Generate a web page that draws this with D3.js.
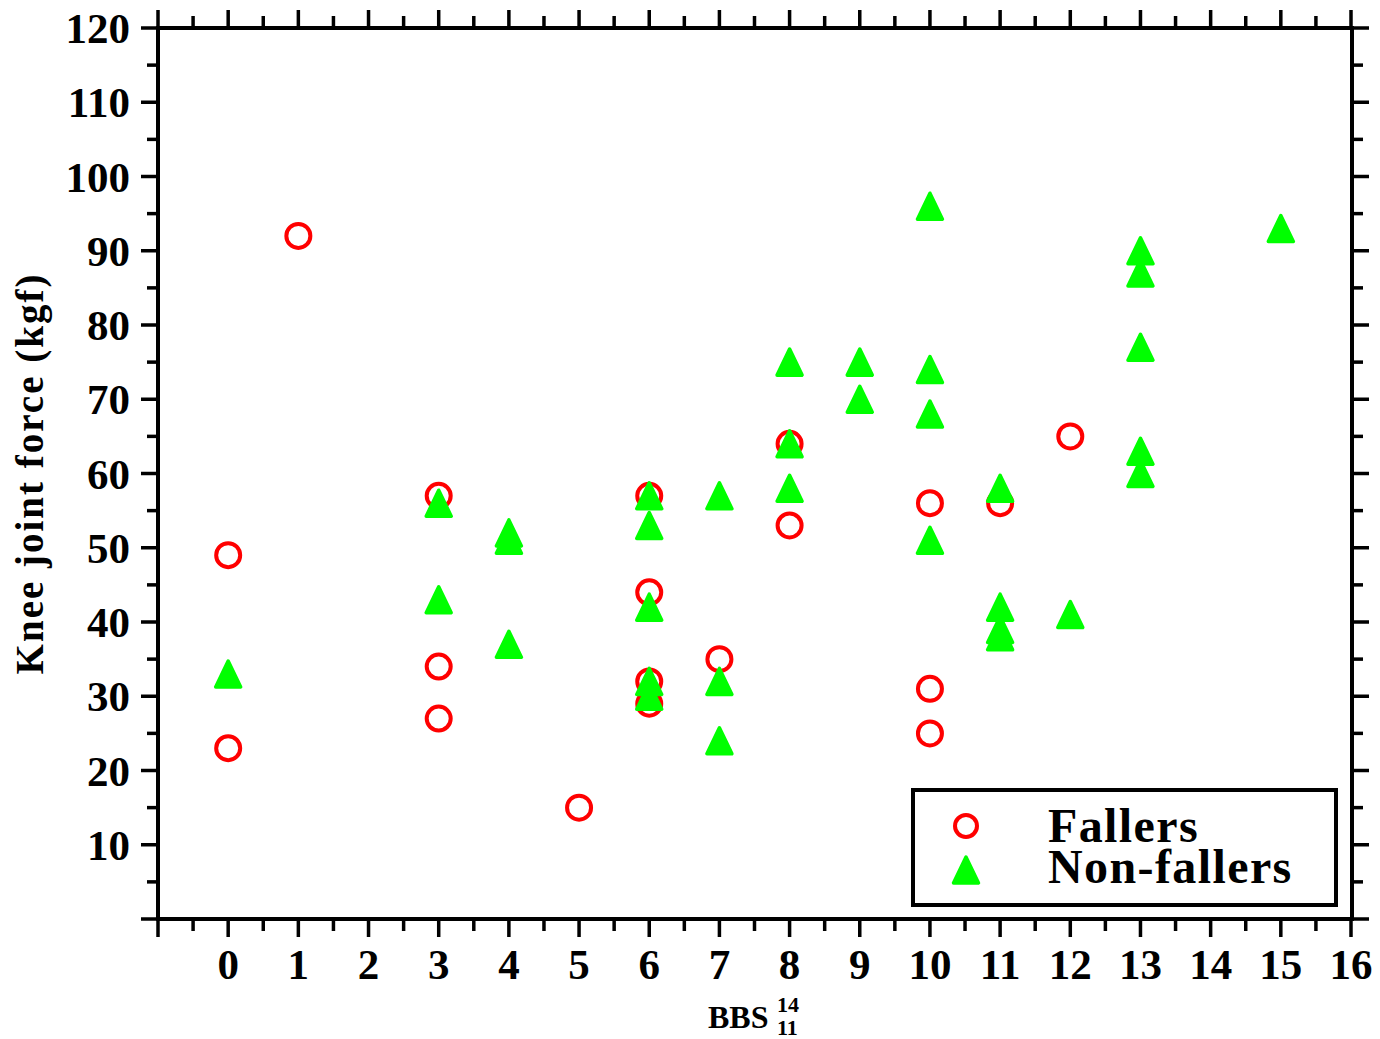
<!doctype html>
<html>
<head>
	<meta charset='utf-8'/>
	<script src="https://d3js.org/d3.v7.min.js"></script>
	<style>
		body { margin: 0; background: #fff; }
		text { font-family: "Liberation Serif", "DejaVu Serif", serif; font-weight: bold; fill: #000; }
	</style>
</head>
<body>
	<div id="chart"></div>
	<script>
		var width = 1380,
			height = 1039;

		// Fallers (red open circles)
		var fallersX = [0, 0, 1, 3, 3, 3, 5, 6, 6, 6, 6, 7, 8, 8, 10, 10, 10, 11, 12];
		var fallersY = [49, 23, 92, 57, 34, 27, 15, 57, 44, 32, 29, 35, 64, 53, 56, 31, 25, 56, 65];

		// Non-fallers (green triangles)
		var nonFallersX = [0, 3, 3, 4, 4, 4, 6, 6, 6, 6, 6, 7, 7, 7, 8, 8, 8, 9, 9, 10, 10, 10, 10, 11, 11, 11, 11, 12, 13, 13, 13, 13, 13, 15];
		var nonFallersY = [33, 56, 43, 52, 51, 37, 57, 53, 42, 32, 30, 57, 32, 24, 75, 64, 58, 75, 70, 96, 74, 68, 51, 58, 42, 39, 38, 41, 90, 87, 77, 63, 60, 93];

		var xTicks = d3.range(0, 17);
		var yTicks = d3.range(10, 121, 10);
		var legendLabels = ["Fallers", "Non-fallers"];

		var mLeft = 158, mRight = 1352, mTop = 28, mBottom = 919;

		var x = d3.scaleLinear().domain([-1, 16]).range([mLeft, mRight - 1]);
		var y = d3.scaleLinear().domain([0, 120]).range([mBottom, mTop]);

		var svg = d3.select("#chart").append("svg")
			.attr("width", width)
			.attr("height", height);

		var lw = 4;

		// ticks (outward on all four sides)
		var xMinor = d3.range(-0.5, 16, 1);
		var yMinor = d3.range(5, 120, 10);
		var xMajor = d3.range(-1, 16.01, 1);
		var yMajor = d3.range(0, 120.01, 10);

		var tk = svg.append("g").attr("stroke", "#000").attr("stroke-width", 3.5);
		function xTickLines(vals, len) {
			vals.forEach(function(v) {
				tk.append("line").attr("x1", x(v)).attr("x2", x(v)).attr("y1", mBottom).attr("y2", mBottom + len);
				tk.append("line").attr("x1", x(v)).attr("x2", x(v)).attr("y1", mTop).attr("y2", mTop - len);
			});
		}
		function yTickLines(vals, len) {
			vals.forEach(function(v) {
				tk.append("line").attr("y1", y(v)).attr("y2", y(v)).attr("x1", mLeft).attr("x2", mLeft - len);
				tk.append("line").attr("y1", y(v)).attr("y2", y(v)).attr("x1", mRight).attr("x2", mRight + len);
			});
		}
		xTickLines(xMajor, 18);
		xTickLines(xMinor, 12);
		yTickLines(yMajor, 17);
		yTickLines(yMinor, 11);

		// frame
		svg.append("rect")
			.attr("x", mLeft).attr("y", mTop)
			.attr("width", mRight - mLeft).attr("height", mBottom - mTop)
			.attr("fill", "none").attr("stroke", "#000").attr("stroke-width", lw);

		// tick labels
		svg.append("g").selectAll("text").data(xTicks).enter().append("text")
			.attr("x", function(d) { return x(d); })
			.attr("y", 979)
			.attr("text-anchor", "middle")
			.style("font-size", "43px")
			.text(function(d) { return d; });

		svg.append("g").selectAll("text").data(yTicks).enter().append("text")
			.attr("x", 130)
			.attr("y", function(d) { return y(d) + 15; })
			.attr("text-anchor", "end")
			.style("font-size", "43px")
			.text(function(d) { return d; });

		// axis titles
		svg.append("text")
			.attr("transform", "translate(43," + ((mTop + mBottom) / 2) + ") rotate(-90)")
			.attr("text-anchor", "middle")
			.style("font-size", "39px")
			.style("letter-spacing", "2px")
			.text("Knee joint force (kgf)");

		var xt = svg.append("text")
			.attr("x", 708).attr("y", 1028)
			.style("font-size", "32px");
		xt.append("tspan").text("BBS");
		xt.append("tspan").attr("x", 777).attr("y", 1035).style("font-size", "22px").text("11");
		xt.append("tspan").attr("x", 777).attr("y", 1012).style("font-size", "22px").text("14");

		// markers
		function triPath(cx, cy) {
			return "M" + cx + "," + (cy - 13) + "L" + (cx + 12.5) + "," + (cy + 13) + "L" + (cx - 12.5) + "," + (cy + 13) + "Z";
		}

		svg.append("g").selectAll("circle").data(fallersX).enter().append("circle")
			.attr("cx", function(d) { return x(d); })
			.attr("cy", function(d, i) { return y(fallersY[i]); })
			.attr("r", 12)
			.attr("fill", "none")
			.attr("stroke", "#ff0000")
			.attr("stroke-width", 4);

		svg.append("g").selectAll("path").data(nonFallersX).enter().append("path")
			.attr("d", function(d, i) { return triPath(x(d), y(nonFallersY[i])); })
			.attr("fill", "#00ff00")
			.attr("stroke", "#00ff00")
			.attr("stroke-width", 3.5)
			.attr("stroke-linejoin", "round");

		// legend
		var lg = svg.append("g");
		lg.append("rect")
			.attr("x", 913).attr("y", 790)
			.attr("width", 423).attr("height", 115)
			.attr("fill", "#fff").attr("stroke", "#000").attr("stroke-width", lw);
		lg.append("circle")
			.attr("cx", 966).attr("cy", 826).attr("r", 11)
			.attr("fill", "none").attr("stroke", "#ff0000").attr("stroke-width", 4);
		lg.append("path")
			.attr("d", triPath(966, 870))
			.attr("fill", "#00ff00").attr("stroke", "#00ff00")
			.attr("stroke-width", 3.5).attr("stroke-linejoin", "round");
		lg.selectAll("text.lab").data(legendLabels).enter().append("text")
			.attr("class", "lab")
			.attr("x", 1048)
			.attr("y", function(d, i) { return 842 + i * 41; })
			.style("font-size", "48px")
			.style("letter-spacing", "1.4px")
			.text(function(d) { return d; });
	</script>
</body>
</html>
